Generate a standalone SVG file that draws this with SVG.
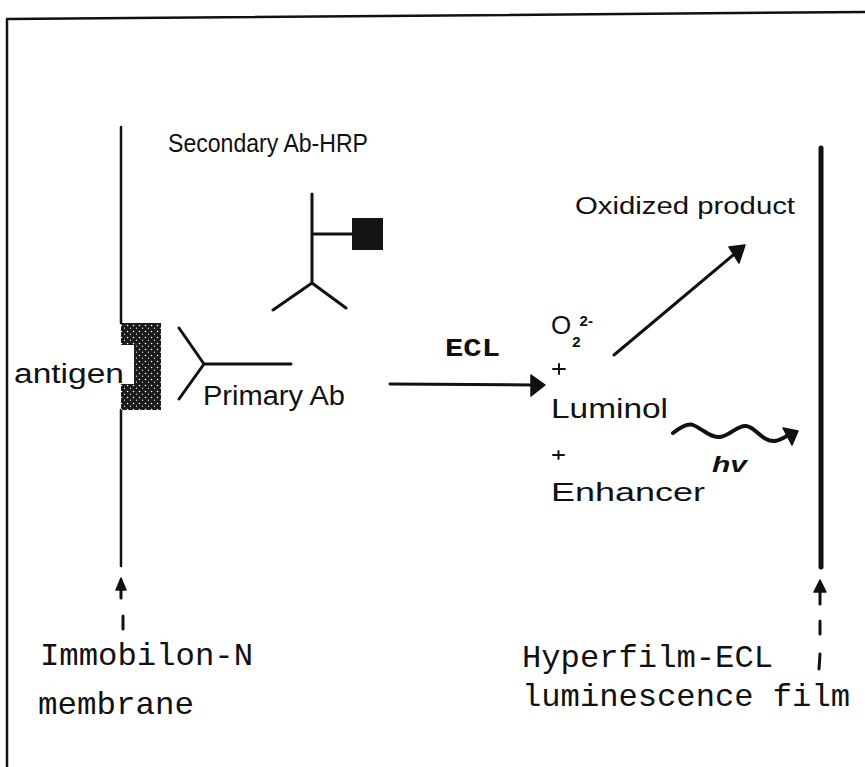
<svg xmlns="http://www.w3.org/2000/svg" width="865" height="767" viewBox="0 0 865 767">
  <style>
    .ln { stroke: #111; fill: none; stroke-linecap: round; stroke-linejoin: round; }
    .sans { font-family: "Liberation Sans", Arial, sans-serif; fill: #111; }
    .mono { font-family: "Liberation Mono", "Courier New", monospace; fill: #111; }
    .head { fill: #111; stroke: #111; stroke-width: 1.5; stroke-linejoin: round; }
  </style>
  <defs>
    <pattern id="stipple" width="6" height="6" patternUnits="userSpaceOnUse">
      <rect width="6" height="6" fill="#1a1a1a"/>
      <circle cx="1.5" cy="1.5" r="0.8" fill="#fff"/>
      <circle cx="4.5" cy="4.2" r="0.6" fill="#fff"/>
    </pattern>
  </defs>
  <rect width="865" height="767" fill="#fff"/>

  <!-- frame -->
  <g id="frame">
    <path class="ln" d="M7,767 L7,19 L865,12" stroke-width="2.5"/>
  </g>

  <!-- blotting membrane with bound antigen -->
  <g id="membrane">
    <line class="ln" x1="121" y1="127" x2="121" y2="323" stroke-width="2.5"/>
    <line class="ln" x1="121" y1="410" x2="121" y2="566" stroke-width="2.5"/>
  </g>
  <g id="antigen">
    <polygon points="121,323 161,323 161,410 121,410 121,384 134,384 134,345 121,345" fill="url(#stipple)"/>
    <text class="sans" x="14" y="383" font-size="27" textLength="110" lengthAdjust="spacingAndGlyphs">antigen</text>
  </g>

  <!-- primary antibody -->
  <g id="primary-ab">
    <path class="ln" d="M179,328 L204,364 L179,399 M204,364 L291,364" stroke-width="3"/>
    <text class="sans" x="203" y="405" font-size="27" textLength="142" lengthAdjust="spacingAndGlyphs">Primary Ab</text>
  </g>

  <!-- HRP-conjugated secondary antibody -->
  <g id="secondary-ab">
    <path class="ln" d="M312,194 L312,283 M273,310 L312,283 L346,308 M312,234 L352,234" stroke-width="3"/>
    <rect x="352" y="218" width="31" height="32" fill="#141414"/>
    <text class="sans" x="168" y="152" font-size="25" textLength="200" lengthAdjust="spacingAndGlyphs">Secondary Ab-HRP</text>
  </g>

  <!-- chemiluminescent reaction mix -->
  <g id="reaction">
    <text class="sans" x="551" y="334" font-size="26">O<tspan dx="1" dy="13" font-size="15" font-weight="bold">2</tspan><tspan dx="-1" dy="-21" font-size="15" font-weight="bold">2-</tspan></text>
    <path class="ln" d="M553,369 L565,369 M559,364 L559,374" stroke-width="2"/>
    <text class="sans" x="551" y="418" font-size="27" textLength="117" lengthAdjust="spacingAndGlyphs">Luminol</text>
    <path class="ln" d="M553,455 L564,455 M558.5,451 L558.5,459" stroke-width="2"/>
    <text class="sans" x="551" y="501" font-size="25" textLength="154" lengthAdjust="spacingAndGlyphs">Enhancer</text>
  </g>

  <g id="oxidized-product">
    <text class="sans" x="575" y="214" font-size="23" textLength="220" lengthAdjust="spacingAndGlyphs">Oxidized product</text>
  </g>

  <!-- X-ray film -->
  <g id="film">
    <line class="ln" x1="821" y1="148" x2="821" y2="567" stroke-width="5"/>
  </g>

  <!-- labels for membrane and film -->
  <g id="membrane-label">
    <text class="mono" x="40" y="665" font-size="32" textLength="213" lengthAdjust="spacingAndGlyphs">Immobilon-N</text>
    <text class="mono" x="38" y="714" font-size="32" textLength="156" lengthAdjust="spacingAndGlyphs">membrane</text>
  </g>
  <g id="film-label">
    <text class="mono" x="522" y="667" font-size="32" textLength="251" lengthAdjust="spacingAndGlyphs">Hyperfilm-ECL</text>
    <text class="mono" x="522" y="706" font-size="32" textLength="328" lengthAdjust="spacingAndGlyphs">luminescence film</text>
  </g>

  <!-- connectors -->
  <g id="connectors">
    <!-- ECL development step -->
    <line class="ln" x1="390" y1="384" x2="533" y2="385" stroke-width="3"/>
    <path class="head" d="M531,375 L545,385 L531,396 Z"/>
    <text class="mono" x="445" y="356" font-size="25" font-weight="bold" textLength="55" lengthAdjust="spacingAndGlyphs">ECL</text>

    <!-- oxidation product -->
    <line class="ln" x1="614" y1="355" x2="738" y2="251" stroke-width="3"/>
    <path class="head" d="M729,247 L745,245 L739,263 Z"/>

    <!-- emitted light -->
    <path class="ln" d="M673,433 C682,426 688,423 693,425 C703,429 710,438 720,437 C730,436 737,425 746,426 C756,427 762,442 775,441 C782,440 786,436 790,434" stroke-width="4"/>
    <path class="head" d="M783,428 L798,431 L792,445 Z"/>
    <text class="sans" x="712" y="472" font-size="22" font-style="italic" font-weight="bold" textLength="35" lengthAdjust="spacingAndGlyphs">hv</text>

    <!-- pointer to membrane -->
    <path class="head" d="M121,578 L116,590 L126,590 Z"/>
    <line class="ln" x1="121" y1="589" x2="121" y2="598" stroke-width="3"/>
    <line class="ln" x1="123" y1="616" x2="123" y2="629" stroke-width="3"/>

    <!-- pointer to film -->
    <path class="head" d="M820,580 L814,592 L826,592 Z"/>
    <line class="ln" x1="820" y1="591" x2="820" y2="604" stroke-width="3"/>
    <line class="ln" x1="820" y1="621" x2="820" y2="634" stroke-width="3"/>
    <line class="ln" x1="820" y1="654" x2="819" y2="669" stroke-width="3"/>
  </g>
</svg>
